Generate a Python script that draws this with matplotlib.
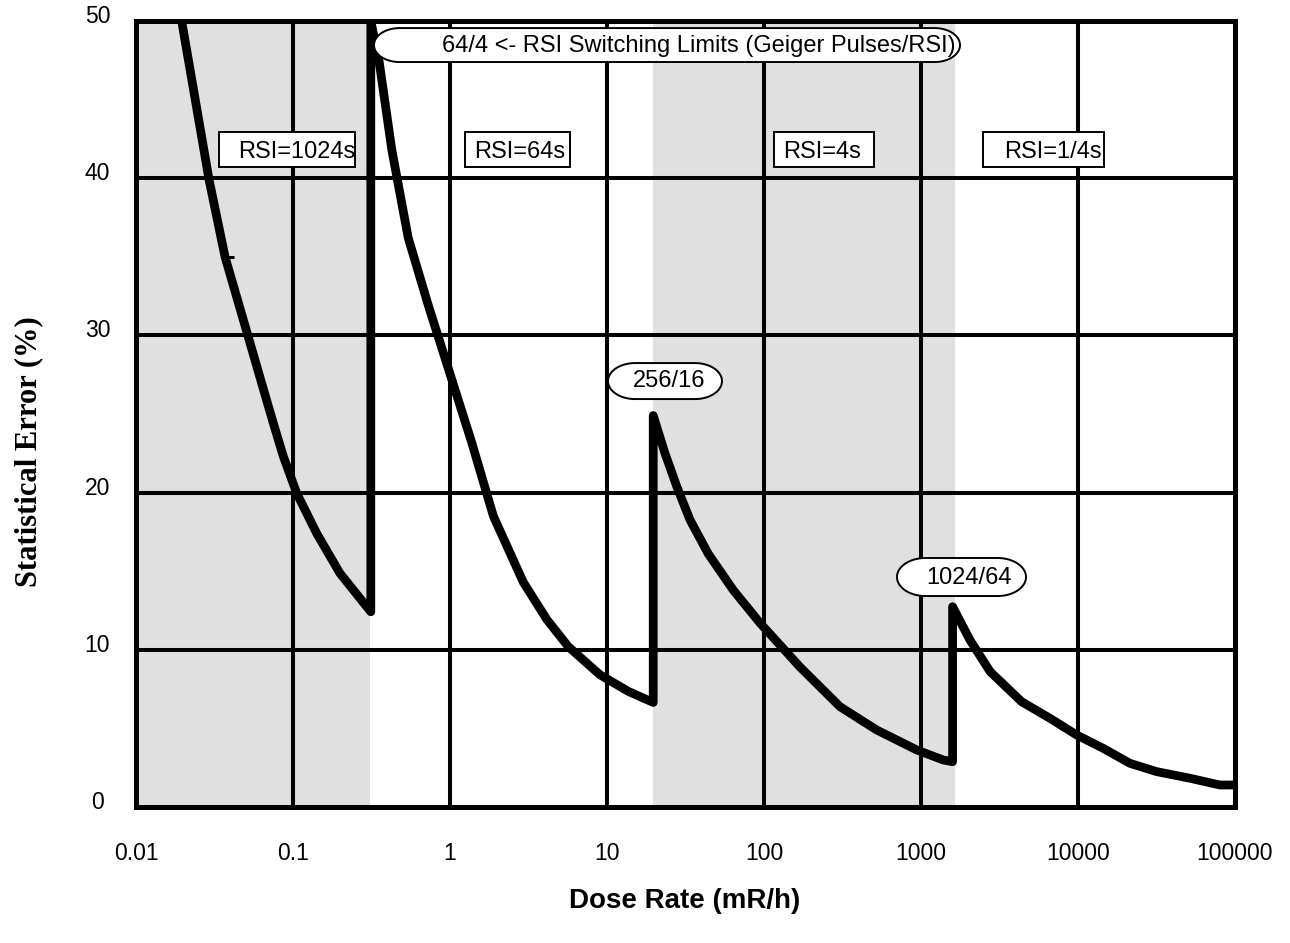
import numpy as np
import matplotlib
matplotlib.use("Agg")
import matplotlib.pyplot as plt
from matplotlib.patches import Polygon, Rectangle
from matplotlib.transforms import IdentityTransform, offset_copy, blended_transform_factory
from matplotlib.ticker import NullLocator

# ---------------- data ----------------
dose = [0.01954, 0.0292, 0.0369, 0.0519, 0.0632, 0.0750, 0.0868, 0.1056, 0.1417, 0.199, 0.313,
        0.313, 0.354, 0.426, 0.542, 0.728, 0.975, 1.374, 1.89, 2.93, 4.13, 5.67, 9.02, 13.7, 19.7,
        19.7, 23.4, 27.8, 33.8, 44.2, 63.7, 94.4, 169, 305, 522, 939, 1387, 1589,
        1589, 2051, 2757, 4372, 6635, 9817, 14490, 21400, 31700, 51600, 80100, 100000]
error = [50.0, 39.9, 35.0, 29.9, 26.95, 24.4, 22.3, 19.96, 17.4, 14.87, 12.42,
         50.0, 47.4, 41.8, 36.2, 31.9, 27.9, 23.2, 18.5, 14.3, 11.94, 10.2, 8.41, 7.35, 6.65,
         24.9, 22.5, 20.4, 18.26, 16.1, 13.8, 11.7, 8.92, 6.38, 4.9, 3.63, 2.99, 2.88,
         12.74, 10.62, 8.61, 6.70, 5.64, 4.58, 3.73, 2.78, 2.25, 1.83, 1.40, 1.40]

# small stray dash on the first branch
dash_x = [0.0391]
dash_y = [35.0]

x_ticks = [0.01, 0.1, 1, 10, 100, 1000, 10000, 100000]
x_tick_labels = ["0.01", "0.1", "1", "10", "100", "1000", "10000", "100000"]
y_ticks = [0, 10, 20, 30, 40, 50]
y_tick_labels = ["0", "10", "20", "30", "40", "50"]

shade_start = [0.01, 19.7]
shade_end = [0.31, 1650]

rsi_labels = ["RSI=1024s", "RSI=64s", "RSI=4s", "RSI=1/4s"]
rsi_box_x0 = [0.0338, 1.246, 115.8, 2500]
rsi_box_x1 = [0.248, 5.81, 501.8, 14640]
rsi_text_x = [0.0446, 1.42, 132, 3381]
rsi_box_y0, rsi_box_y1 = 40.73, 42.96
rsi_text_y = 41.28

limit_labels = ["64/4 <- RSI Switching Limits (Geiger Pulses/RSI)", "256/16", "1024/64"]
limit_box_x0 = [0.328, 10.15, 703]
limit_box_x1 = [1772, 54.0, 4665]
limit_box_y0 = [47.39, 25.95, 13.42]
limit_box_y1 = [49.55, 28.24, 15.84]
limit_text_x = [0.889, 14.64, 1076]
limit_text_y = [48.03, 26.72, 14.19]

# ---------------- figure ----------------
plt.rcParams['font.family'] = ['Liberation Sans', 'DejaVu Sans']

W, H = 1290, 943
fig = plt.figure(figsize=(W / 100, H / 100), dpi=100)
ax = fig.add_axes([136 / W, 136 / H, 1099 / W, 786 / H])
ax.set_xscale('log')
ax.set_xlim(x_ticks[0], x_ticks[-1])
ax.set_ylim(y_ticks[0], y_ticks[-1])

for s, e in zip(shade_start, shade_end):
    ax.axvspan(s, e, color='#e0e0e0', lw=0, zorder=0)

for v in x_ticks:
    ax.axvline(v, color='black', lw=2.9, zorder=1)
for v in y_ticks:
    ax.axhline(v, color='black', lw=2.9, zorder=1)

ax.plot(dose, error, color='black', lw=6.3, solid_joinstyle='round',
        solid_capstyle='round', zorder=3)
ax.plot(dash_x, dash_y, linestyle='none', marker='_', ms=7, mew=2.2,
        color='black', zorder=3)

for sp in ax.spines.values():
    sp.set_linewidth(3.6)
    sp.set_zorder(4)

ax.xaxis.set_minor_locator(NullLocator())
ax.yaxis.set_minor_locator(NullLocator())
ax.set_xticks([])
ax.set_yticks([])

tx = blended_transform_factory(ax.transData, ax.transAxes)
for v, lab in zip(x_ticks, x_tick_labels):
    ax.text(v, 0, lab, transform=offset_copy(tx, fig=fig, x=0, y=-53, units='dots'),
            ha='center', va='baseline', fontsize=16.5)
ty = blended_transform_factory(ax.transAxes, ax.transData)
for v, lab in zip(y_ticks, y_tick_labels):
    ax.text(0, v, lab, transform=offset_copy(ty, fig=fig, x=-38.5, y=-2, units='dots'),
            ha='center', va='baseline', fontsize=16.5)

# ---------------- annotation boxes ----------------
def disp(x, y):
    return ax.transData.transform((x, y))

for lab, x0, x1, txx in zip(rsi_labels, rsi_box_x0, rsi_box_x1, rsi_text_x):
    X0, Y0 = disp(x0, rsi_box_y0)
    X1, Y1 = disp(x1, rsi_box_y1)
    ax.add_patch(Rectangle((X0, Y0), X1 - X0, Y1 - Y0, transform=IdentityTransform(),
                           fc='white', ec='black', lw=1.4, zorder=5, clip_on=False))
    ax.text(txx, rsi_text_y, lab, ha='left', va='baseline', fontsize=17, zorder=6)


def stadium(X0, Y0, X1, Y1):
    ry = (Y1 - Y0) / 2
    rx = min(0.75 * (Y1 - Y0), (X1 - X0) / 2)
    yc = (Y0 + Y1) / 2
    t_r = np.linspace(-np.pi / 2, np.pi / 2, 40)
    t_l = np.linspace(np.pi / 2, 3 * np.pi / 2, 40)
    right = np.column_stack([X1 - rx + rx * np.cos(t_r), yc + ry * np.sin(t_r)])
    left = np.column_stack([X0 + rx + rx * np.cos(t_l), yc + ry * np.sin(t_l)])
    return np.vstack([right, left])


for lab, x0, x1, y0, y1, txx, tyy in zip(limit_labels, limit_box_x0, limit_box_x1,
                                         limit_box_y0, limit_box_y1, limit_text_x, limit_text_y):
    X0, Y0 = disp(x0, y0)
    X1, Y1 = disp(x1, y1)
    ax.add_patch(Polygon(stadium(X0, Y0, X1, Y1), closed=True,
                         transform=IdentityTransform(), fc='white', ec='black',
                         lw=1.4, zorder=5, clip_on=False))
    ax.text(txx, tyy, lab, ha='left', va='baseline', fontsize=17, zorder=6)

# ---------------- axis titles ----------------
fig.text(685 / W, 35 / H, "Dose Rate (mR/h)", ha='center', va='baseline',
         fontsize=20, fontweight='bold')
fig.text(29 / W, (H - 451.5) / H, "Statistical Error (%)", rotation=90,
         ha='center', va='center', fontsize=22, fontweight='bold',
         family=['Liberation Serif', 'DejaVu Serif'])

fig.savefig('out.png', dpi=100)
